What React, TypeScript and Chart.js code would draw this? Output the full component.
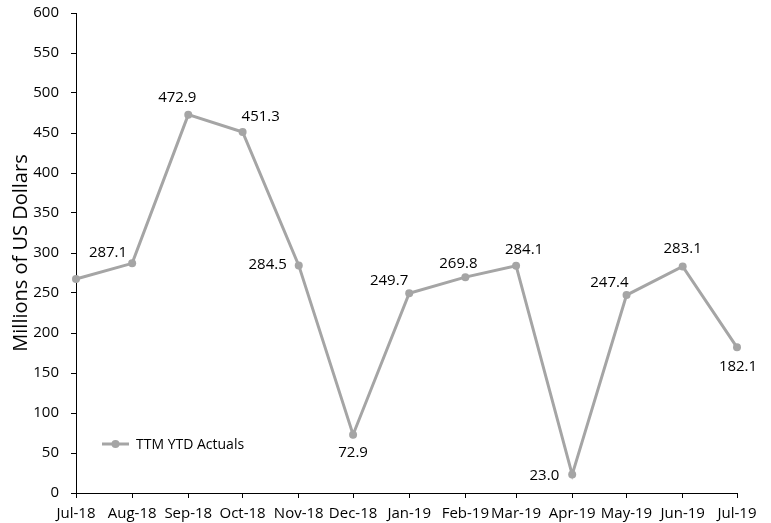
import React, { useEffect, useRef } from "react";
import { Chart, registerables } from "chart.js";

Chart.register(...registerables);

// ---- data ----
const monthLabels = ["Jul-18", "Aug-18", "Sep-18", "Oct-18", "Nov-18", "Dec-18", "Jan-19", "Feb-19", "Mar-19", "Apr-19", "May-19", "Jun-19", "Jul-19"];
const ttmValues = [267.5, 287.1, 472.9, 451.3, 284.5, 72.9, 249.7, 269.8, 284.1, 23.0, 247.4, 283.1, 182.1];
const showValueLabel = [false, true, true, true, true, true, true, true, true, true, true, true, true];
const seriesName = "TTM YTD Actuals";
const yTicks = [0, 50, 100, 150, 200, 250, 300, 350, 400, 450, 500, 550, 600];
const yTitle = "Millions of US Dollars";

// label placement (text anchor relative to the point): [align, dx, dy]
const labelPlacement: [CanvasTextAlign, number, number][] = [
  ["center", 0, 0],
  ["right", -5, -11],
  ["center", -11, -17],
  ["left", -1, -15],
  ["right", -12, -1],
  ["center", 0, 18],
  ["right", -1, -13],
  ["center", -7, -13],
  ["center", 8, -16],
  ["right", -13, 1],
  ["right", 2, -12],
  ["center", 0, -18],
  ["center", 1, 19],
];

const MONTHS = ["Jan", "Feb", "Mar", "Apr", "May", "Jun", "Jul", "Aug", "Sep", "Oct", "Nov", "Dec"];
function labelToTime(lbl: string) {
  const [m, y] = lbl.split("-");
  return Date.UTC(2000 + parseInt(y, 10), MONTHS.indexOf(m), 1);
}
const baseTime = labelToTime(monthLabels[0]);
const dayOffsets = monthLabels.map((l) => Math.round((labelToTime(l) - baseTime) / 86400000));

const LINE = "#a5a5a5";
const FONT = "'Open Sans', sans-serif";

const valueLabelPlugin = {
  id: "valueLabels",
  afterDatasetsDraw(chart: any) {
    const ctx = chart.ctx;
    const meta = chart.getDatasetMeta(0);
    ctx.save();
    ctx.font = `15px ${FONT}`;
    ctx.fillStyle = "#000";
    ctx.textBaseline = "middle";
    meta.data.forEach((pt: any, i: number) => {
      if (!showValueLabel[i]) return;
      const [align, dx, dy] = labelPlacement[i];
      ctx.textAlign = align;
      ctx.fillText(ttmValues[i].toFixed(1), pt.x + dx, pt.y + dy);
    });
    ctx.restore();
  },
};

const legendPlugin = {
  id: "insideLegend",
  afterDraw(chart: any) {
    const ctx = chart.ctx;
    const a = chart.chartArea;
    const x0 = a.left + 26;
    const y0 = a.bottom - 49;
    ctx.save();
    ctx.strokeStyle = LINE;
    ctx.lineWidth = 3;
    ctx.beginPath();
    ctx.moveTo(x0, y0);
    ctx.lineTo(x0 + 27, y0);
    ctx.stroke();
    ctx.fillStyle = LINE;
    ctx.beginPath();
    ctx.arc(x0 + 13.5, y0, 4, 0, Math.PI * 2);
    ctx.fill();
    ctx.fillStyle = "#000";
    ctx.font = `14px ${FONT}`;
    ctx.textAlign = "left";
    ctx.textBaseline = "middle";
    ctx.fillText(seriesName, x0 + 34, y0 + 1);
    ctx.restore();
  },
};

export default function App() {
  const ref = useRef<HTMLCanvasElement | null>(null);
  useEffect(() => {
    document.body.style.margin = "0";
    const canvas = ref.current!;
    const chart = new Chart(canvas, {
      type: "line",
      data: {
        datasets: [
          {
            label: seriesName,
            data: ttmValues.map((v, i) => ({ x: dayOffsets[i], y: v })),
            borderColor: LINE,
            backgroundColor: LINE,
            borderWidth: 3,
            pointRadius: 4,
            pointBackgroundColor: LINE,
            pointBorderColor: LINE,
            pointBorderWidth: 0,
            tension: 0,
            clip: false,
          },
        ],
      },
      options: {
        animation: false,
        responsive: false,
        maintainAspectRatio: false,
        layout: { padding: { top: 13, right: 34, left: 0, bottom: 0 } },
        plugins: {
          legend: { display: false },
          tooltip: { enabled: false },
          title: { display: false },
        },
        scales: {
          x: {
            type: "linear",
            min: dayOffsets[0],
            max: dayOffsets[dayOffsets.length - 1],
            afterBuildTicks: (s: any) => {
              s.ticks = dayOffsets.map((v) => ({ value: v }));
            },
            afterFit: (s: any) => {
              s.height = 30;
            },
            ticks: {
              autoSkip: false,
              maxRotation: 0,
              minRotation: 0,
              padding: 7,
              color: "#000",
              font: { family: FONT, size: 15 },
              callback: (v: any) => {
                const i = dayOffsets.indexOf(Number(v));
                return i >= 0 ? monthLabels[i] : "";
              },
            },
            grid: { drawOnChartArea: false, drawTicks: true, tickLength: 5, color: "#000" },
            border: { color: "#000", width: 1 },
          },
          y: {
            min: yTicks[0],
            max: yTicks[yTicks.length - 1],
            afterBuildTicks: (s: any) => {
              s.ticks = yTicks.map((v) => ({ value: v }));
            },
            afterFit: (s: any) => {
              s.width = 76;
              s.paddingTop = 0;
              s.paddingBottom = 0;
            },
            ticks: {
              padding: 12,
              color: "#000",
              font: { family: FONT, size: 15 },
            },
            title: {
              display: true,
              text: yTitle,
              color: "#000",
              font: { family: FONT, size: 20 },
              padding: { top: 9, bottom: 4 },
            },
            grid: { drawOnChartArea: false, drawTicks: true, tickLength: 5, color: "#000" },
            border: { color: "#000", width: 1 },
          },
        },
      },
      plugins: [valueLabelPlugin, legendPlugin],
    } as any);
    return () => chart.destroy();
  }, []);
  return (
    <div style={{ width: 771, height: 523, position: "relative", background: "#fff" }}>
      <canvas ref={ref} width={771} height={523} style={{ display: "block" }} />
    </div>
  );
}
